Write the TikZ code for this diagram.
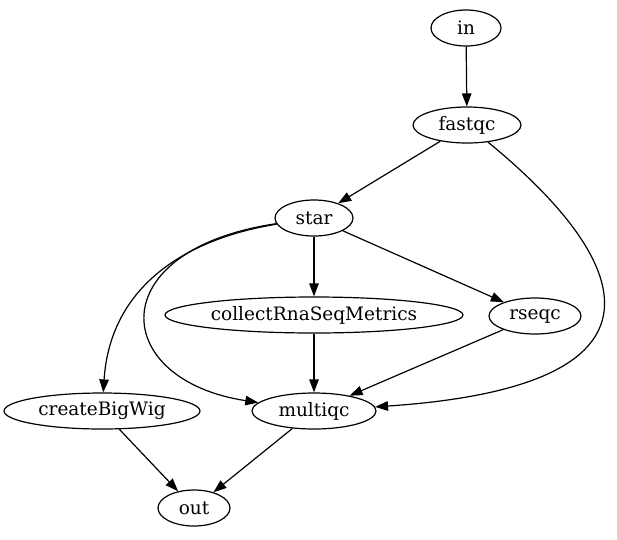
\documentclass[tikz,border=0pt]{standalone}
\usepackage{fontspec}
\setmainfont{DejaVu Serif}
\usetikzlibrary{arrows.meta,shapes.geometric}

\begin{document}
\begin{tikzpicture}[
    x=1pt, y=-1pt,
    job/.style={draw, ellipse, line width=1.2pt, inner sep=0pt, minimum height=36pt, font=\fontsize{18.5}{22}\selectfont},
    arr/.style={-{Triangle[length=13pt, width=9.5pt]}, line width=1.2pt}
]
\useasboundingbox (0,0) rectangle (617,539);
\node[job, minimum width=70pt] (in) at (466,28) {in};
\node[job, minimum width=108pt] (fastqc) at (467,125) {fastqc};
\node[job, minimum width=78pt] (star) at (314,218) {star};
\node[job, minimum width=298pt] (crsm) at (314,315) {collectRnaSeqMetrics};
\node[job, minimum width=92pt] (rseqc) at (535,316) {rseqc};
\node[job, minimum width=196pt] (bigwig) at (102,411) {createBigWig};
\node[job, minimum width=124pt] (multiqc) at (314,411) {multiqc};
\node[job, minimum width=72pt] (out) at (194,508) {out};

\draw[arr] (in) -- (fastqc);
\draw[arr] (fastqc) -- (star);
\draw[arr] (fastqc) .. controls (620,250) and (700,385) .. (multiqc);
\draw[arr] (star) -- (crsm);
\draw[arr] (star) -- (rseqc);
\draw[arr] (star) .. controls (180,240) and (110,290) .. (bigwig);
\draw[arr] (star) .. controls (100,250) and (110,380) .. (multiqc);
\draw[arr] (crsm) -- (multiqc);
\draw[arr] (rseqc) -- (multiqc);
\draw[arr] (bigwig) -- (out);
\draw[arr] (multiqc) -- (out);
\end{tikzpicture}
\end{document}
